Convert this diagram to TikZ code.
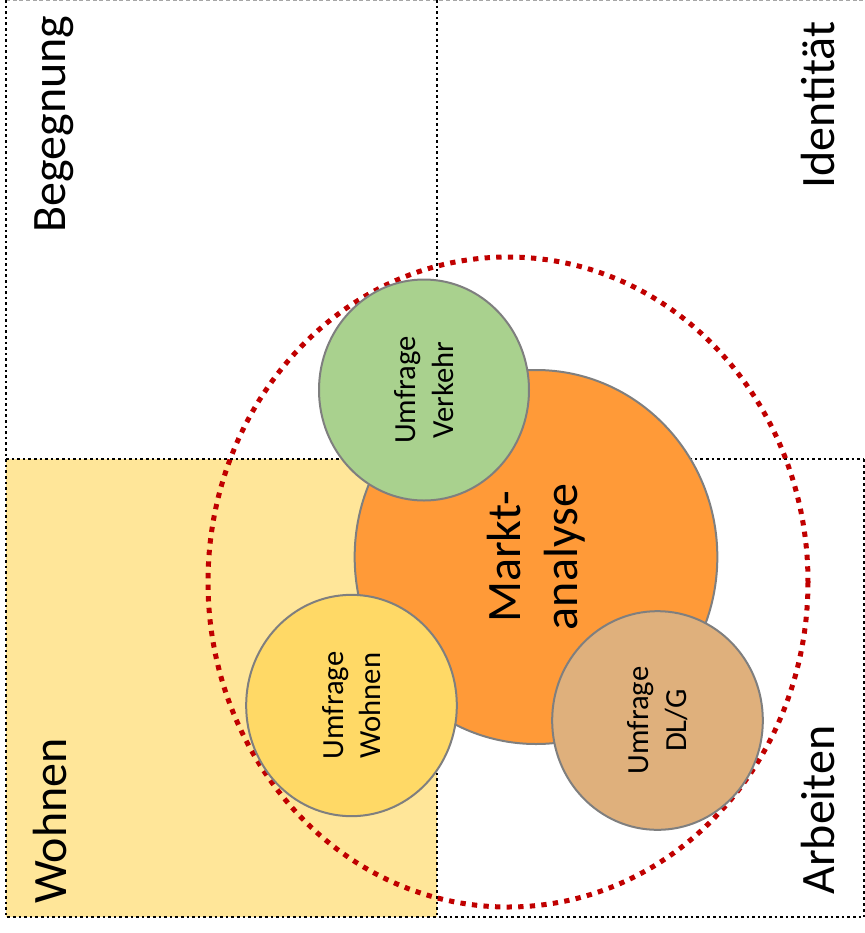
\documentclass[tikz,border=0pt]{standalone}
\usepackage{fontspec}
\setmainfont{Carlito}
\usetikzlibrary{shapes.geometric}
\definecolor{zoneyellow}{HTML}{FFE699}
\definecolor{marktorange}{HTML}{FF9A38}
\definecolor{verkehrgreen}{HTML}{A9D18E}
\definecolor{wohnyellow}{HTML}{FFD966}
\definecolor{dlgtan}{HTML}{DFB07C}
\definecolor{rimgray}{HTML}{7F7F7F}
\definecolor{ringred}{HTML}{C00000}
\begin{document}
\begin{tikzpicture}[x=0.75pt,y=-0.75pt,
  quadline/.style={black, line width=2pt, dash pattern=on 2pt off 2.2pt},
  frameline/.style={gray!70, line width=0.8pt, dash pattern=on 3pt off 2pt},
  bubble/.style={ellipse, draw=rimgray, line width=1.5pt, inner sep=0pt,
    rotate=90, align=center, font=\fontsize{23}{28}\selectfont},
  bigbubble/.style={bubble, font=\fontsize{36}{43}\selectfont},
  zonelabel/.style={rotate=90, inner sep=0pt, font=\fontsize{36}{43}\selectfont},
  ring/.style={ringred, line width=3.75pt, dash pattern=on 4pt off 4.7pt}]
\useasboundingbox (0,0) rectangle (865,933);

% quadrant corners
\coordinate (tl) at (6,0);
\coordinate (tm) at (437,0);
\coordinate (tr) at (865,0);
\coordinate (ml) at (6,459);
\coordinate (mm) at (437,459);
\coordinate (mr) at (864,459);
\coordinate (bl) at (6,917);
\coordinate (bm) at (437,917);
\coordinate (br) at (864,917);

% Wohnen quadrant fill
\fill[zoneyellow] (ml) rectangle (bm);

% quadrant frame
\draw[frameline] (tl) -- (tr);
\draw[quadline] (tl) -- (bl) -- (br);
\draw[black, line width=1pt, dash pattern=on 2.5pt off 2pt] (mr) -- (br);
\draw[quadline] (tm) -- (bm);
\draw[quadline] (ml) -- (mr);

% quadrant labels
\node[zonelabel] (begegnung) at (54,124) {Begegnung};
\node[zonelabel] (identitaet) at (818,105) {Identität};
\node[zonelabel] (wohnen) at (50,821) {Wohnen};
\node[zonelabel] (arbeiten) at (818,810) {Arbeiten};

% dotted ring around the surveys
\draw[ring] (508,582) ellipse [x radius=300, y radius=325];

% survey bubbles
\node[bigbubble, fill=marktorange, minimum width=280.5pt, minimum height=272pt]
  (markt) at (536,557) {Markt-\\analyse};
\node[bubble, fill=verkehrgreen, minimum width=165.75pt, minimum height=157.5pt]
  (verkehr) at (424,390) {Umfrage\\Verkehr};
\node[bubble, fill=wohnyellow, minimum width=166pt, minimum height=158pt]
  (wohnumfrage) at (351.5,705.5) {Umfrage\\Wohnen};
\node[bubble, fill=dlgtan, minimum width=164pt, minimum height=158pt]
  (dlg) at (657.5,720.5) {Umfrage\\DL/G};
\end{tikzpicture}
\end{document}
